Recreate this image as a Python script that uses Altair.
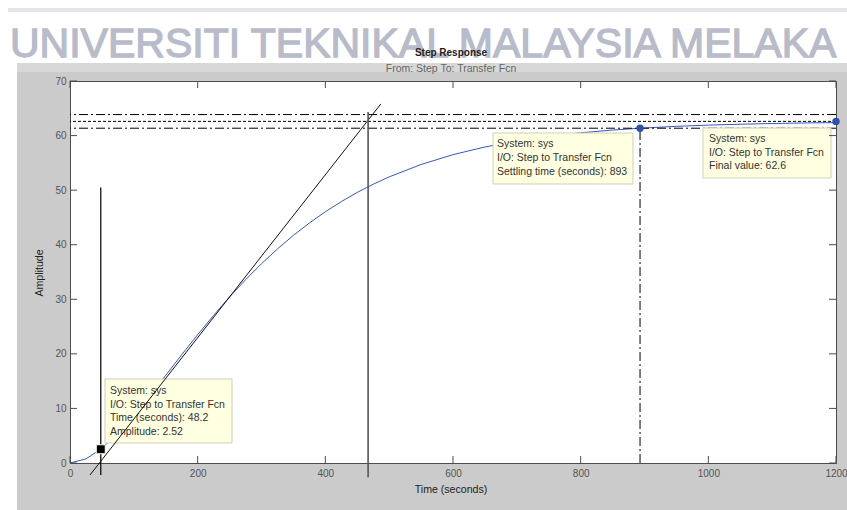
import altair as alt
import pandas as pd

FONT = "Liberation Sans"

# ---- data ----
time_s = [0, 25, 50, 75, 100, 125, 150, 175, 200, 225, 250, 275, 300, 325, 350,
          375, 400, 425, 450, 475, 500, 550, 600, 650, 700, 750, 800, 850, 893,
          950, 1000, 1050, 1100, 1150, 1200]
amplitude = [0, 0.75, 2.70, 5.46, 8.75, 12.35, 16.08, 19.84, 23.52, 27.06, 30.43,
             33.58, 36.52, 39.23, 41.71, 43.98, 46.04, 47.90, 49.58, 51.08, 52.43,
             54.70, 56.50, 57.91, 59.00, 59.85, 60.51, 61.01, 61.35, 61.69, 61.92,
             62.08, 62.21, 62.31, 62.38]
x_ticks = [0, 200, 400, 600, 800, 1000, 1200]
y_ticks = [0, 10, 20, 30, 40, 50, 60, 70]

final_value = 62.6
final_time = 1200
band_values = [63.85, 61.35]
settling_time = 893
settling_amp = 61.35
dead_time = 48.2
dead_amp = 2.52
dead_line = [-2.2, 50.5]
tangent_t = [31.3, 487]
tangent_a = [-2.2, 65.8]
vline_t = 467
vline_a = [-2.6, 64.3]

box1_lines = ["System: sys", "I/O: Step to Transfer Fcn", "Time (seconds): 48.2", "Amplitude: 2.52"]
box2_lines = ["System: sys", "I/O: Step to Transfer Fcn", "Settling time (seconds): 893"]
box3_lines = ["System: sys", "I/O: Step to Transfer Fcn", "Final value: 62.6"]

W, H = 766, 382
one = pd.DataFrame({"k": [0]})
xs = alt.Scale(domain=[0, 1200], nice=False, zero=False)
ys = alt.Scale(domain=[0, 70], nice=False, zero=False)


def prect(x, x2, y, y2, fill, stroke=None):
    kw = dict(fill=fill, clip=False)
    if stroke:
        kw.update(stroke=stroke, strokeWidth=1)
    return alt.Chart(one).mark_rect(**kw).encode(
        x=alt.value(x), x2=alt.value(x2), y=alt.value(y), y2=alt.value(y2))


def ptext(s, x, y, size=10.5, color="#333333", align="left", weight="normal",
          angle=0, baseline="middle", **extra):
    return alt.Chart(one).mark_text(
        text=s, align=align, baseline=baseline, fontSize=size, color=color,
        font=FONT, fontWeight=weight, angle=angle, clip=False, **extra
    ).encode(x=alt.value(x), y=alt.value(y))


layers = []
# page decorations (white top, faint line, lighter band)
layers.append(prect(-70, 777, -81, -18, "white"))
layers.append(prect(-70, -53, -18, 429, "white"))
layers.append(prect(-53, 777, -18, -9, "#d8d8d8"))
layers.append(prect(-62, 777, -73, -69, "#e3e3ea"))
layers.append(ptext("UNIVERSITI TEKNIKAL MALAYSIA MELAKA", -60, -24, size=41,
                    color="#b8bbca", baseline="alphabetic",
                    stroke="#b8bbca", strokeWidth=1.3))

# response curve
curve_df = pd.DataFrame({"t": time_s, "a": amplitude})
layers.append(alt.Chart(curve_df).mark_line(color="#3857b8", strokeWidth=1).encode(
    x=alt.X("t:Q", scale=xs, axis=alt.Axis(
        values=x_ticks, title=None, ticks=False, grid=False, labelFontSize=10,
        labelColor="#555555", labelFont=FONT, labelPadding=5, format="d",
        domainColor="#4d4d4d", labelFlush=False)),
    y=alt.Y("a:Q", scale=ys, axis=alt.Axis(
        values=y_ticks, title=None, ticks=False, grid=False, labelFontSize=10,
        labelColor="#555555", labelFont=FONT, labelPadding=4, format="d",
        domainColor="#4d4d4d", labelFlush=False)),
))

# settling band lines
band_df = pd.DataFrame({"a": band_values})
layers.append(alt.Chart(band_df).mark_rule(color="black", strokeWidth=1,
                                           strokeDash=[9, 3, 2, 3]).encode(
    y=alt.Y("a:Q", scale=ys)))
fv_df = pd.DataFrame({"a": [final_value]})
layers.append(alt.Chart(fv_df).mark_rule(color="black", strokeWidth=1,
                                         strokeDash=[3, 2]).encode(
    y=alt.Y("a:Q", scale=ys)))
# settling vertical
st_df = pd.DataFrame({"t": [settling_time], "a": [0], "a2": [settling_amp]})
layers.append(alt.Chart(st_df).mark_rule(color="black", strokeWidth=1,
                                         strokeDash=[9, 3, 2, 3]).encode(
    x=alt.X("t:Q", scale=xs), y=alt.Y("a:Q", scale=ys), y2="a2:Q"))

# data tip boxes
layers.append(prect(35, 162, 298, 362, "#ffffe1", "#cfcfb8"))
layers.append(prect(423, 563, 52, 103, "#ffffe1", "#cfcfb8"))
layers.append(prect(633, 761, 47, 97, "#ffffe1", "#cfcfb8"))
for i, s in enumerate(box1_lines):
    layers.append(ptext(s, 40, 310 + 13.5 * i))
for i, s in enumerate(box2_lines):
    layers.append(ptext(s, 427, 63 + 14 * i))
for i, s in enumerate(box3_lines):
    layers.append(ptext(s, 639, 58 + 13.5 * i))

# tangent and construction lines
tan_df = pd.DataFrame({"t": [tangent_t[0]], "a": [tangent_a[0]],
                       "t2": [tangent_t[1]], "a2": [tangent_a[1]]})
layers.append(alt.Chart(tan_df).mark_rule(color="#111111", strokeWidth=1, clip=False).encode(
    x=alt.X("t:Q", scale=xs), y=alt.Y("a:Q", scale=ys), x2="t2:Q", y2="a2:Q"))
dl_df = pd.DataFrame({"t": [dead_time], "a": [dead_line[0]], "a2": [dead_line[1]]})
layers.append(alt.Chart(dl_df).mark_rule(color="#111111", strokeWidth=1.3, clip=False).encode(
    x=alt.X("t:Q", scale=xs), y=alt.Y("a:Q", scale=ys), y2="a2:Q"))
vl_df = pd.DataFrame({"t": [vline_t], "a": [vline_a[0]], "a2": [vline_a[1]]})
layers.append(alt.Chart(vl_df).mark_rule(color="#555555", strokeWidth=1.6, clip=False).encode(
    x=alt.X("t:Q", scale=xs), y=alt.Y("a:Q", scale=ys), y2="a2:Q"))

# markers
sq_df = pd.DataFrame({"t": [dead_time], "a": [dead_amp]})
layers.append(alt.Chart(sq_df).mark_point(shape="square", filled=True, size=80,
                                          color="black", stroke="#ffffe1",
                                          strokeWidth=1, opacity=1).encode(
    x=alt.X("t:Q", scale=xs), y=alt.Y("a:Q", scale=ys)))
pt_df = pd.DataFrame({"t": [settling_time, final_time], "a": [settling_amp, final_value]})
layers.append(alt.Chart(pt_df).mark_point(shape="circle", filled=True, size=55,
                                          color="#2f50aa", opacity=1, clip=False).encode(
    x=alt.X("t:Q", scale=xs), y=alt.Y("a:Q", scale=ys)))

# inward ticks
xt_df = pd.DataFrame({"t": x_ticks})
yt_df = pd.DataFrame({"a": y_ticks})
tick_col = "#4d4d4d"
layers.append(alt.Chart(xt_df).mark_rule(color=tick_col, strokeWidth=1).encode(
    x=alt.X("t:Q", scale=xs), y=alt.value(H), y2=alt.value(H - 7)))
layers.append(alt.Chart(xt_df).mark_rule(color=tick_col, strokeWidth=1).encode(
    x=alt.X("t:Q", scale=xs), y=alt.value(0), y2=alt.value(7)))
layers.append(alt.Chart(yt_df).mark_rule(color=tick_col, strokeWidth=1).encode(
    y=alt.Y("a:Q", scale=ys), x=alt.value(0), x2=alt.value(7)))
layers.append(alt.Chart(yt_df).mark_rule(color=tick_col, strokeWidth=1).encode(
    y=alt.Y("a:Q", scale=ys), x=alt.value(W - 7), x2=alt.value(W)))

# titles
layers.append(ptext("Step Response", 381, -28, size=10, color="#222222",
                    align="center", weight="bold"))
layers.append(ptext("From: Step  To: Transfer Fcn", 381, -12, size=10.5,
                    color="#666666", align="center"))
layers.append(ptext("Time (seconds)", 381, 409, size=10.6, color="#222222",
                    align="center"))
layers.append(ptext("Amplitude", -30, 192, size=10.6, color="#222222",
                    align="center", angle=270))

chart = alt.layer(*layers).properties(
    width=W, height=H,
    padding={"left": 70, "top": 81, "right": 11, "bottom": 47},
    autosize=alt.AutoSizeParams(type="none"),
    background="#cbcbcb",
).configure_view(stroke="#4d4d4d", fill="white", strokeWidth=1)

chart.save("out.html", embed_options={"renderer": "svg", "actions": False})
